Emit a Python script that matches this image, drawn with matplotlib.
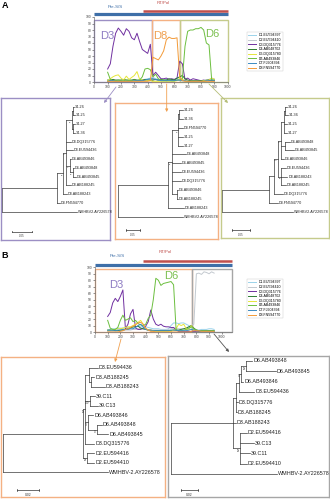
import matplotlib
matplotlib.use('Agg')
import matplotlib.pyplot as plt
from matplotlib.patches import Rectangle

plt.rcParams['font.family'] = ['Liberation Sans', 'DejaVu Sans']

# ------------------------------------------------------------------ data
ref_names = ['D1.EU594397', 'D2.EU594410', 'D3.DQ315776', 'D4.AB048702',
             'D5.DQ315780', 'D6.AB493846', 'D7.FJ904394', 'D8.FN594770']
ref_colors = ['#9BD3EA', '#C3C9CF', '#7030A0', '#2E7D32',
              '#E6E63A', '#6CBF3F', '#3B8BC2', '#F39A38']

# Panel A similarity plot (window position vs % similarity)
A_pos = [100, 120, 140, 160, 180, 200, 220, 240, 260, 280, 300, 320, 340, 360,
         380, 400, 420, 440, 460, 480, 500, 520, 540, 560, 580, 600, 620, 640,
         660, 680, 700, 720, 740, 760, 780, 800, 820, 840, 860, 880, 900]
A_D1 = [2, 2, 2, 1, 1, 1, 1, 1, 1, 1, 1, 2, 2, 3, 4, 5, 6, 7, 5, 4, 3, 3, 4, 3,
        3, 4, 5, 4, 3, 2, 1, 1, 1, 1, 1, 1, 1, 2, 3, 4, 3]
A_D2 = [1, 1, 1, 1, 1, 1, 1, 1, 1, 1, 1, 1, 1, 2, 2, 3, 3, 4, 3, 2, 2, 2, 2, 2,
        2, 2, 3, 3, 2, 2, 1, 1, 1, 1, 1, 1, 1, 2, 4, 6, 5]
A_D3 = [20, 28, 55, 75, 83, 78, 72, 82, 78, 68, 65, 75, 62, 50, 47, 44, 58, 10,
        15, 10, 5, 5, 6, 4, 5, 4, 6, 32, 28, 4, 6, 3, 5, 4, 3, 2, 3, 2, 3, 2, 2]
A_D4 = [3, 3, 4, 3, 3, 3, 4, 3, 3, 3, 4, 3, 3, 3, 4, 3, 3, 3, 4, 3, 4, 3, 3, 5,
        4, 3, 6, 8, 10, 5, 3, 2, 2, 2, 2, 2, 2, 3, 3, 2, 2]
A_D5 = [2, 5, 8, 10, 11, 6, 3, 9, 4, 7, 10, 16, 4, 3, 2, 3, 2, 1, 1, 1, 1, 1, 1,
        1, 1, 1, 2, 6, 4, 2, 1, 1, 1, 1, 1, 1, 2, 2, 3, 6, 4]
A_D6 = [15, 4, 2, 2, 3, 2, 2, 3, 2, 2, 3, 2, 3, 8, 20, 21, 19, 8, 12, 5, 3, 3, 2,
        3, 2, 2, 3, 3, 5, 55, 78, 80, 80, 82, 82, 84, 80, 60, 57, 3, 3]
A_D7 = [1, 2, 2, 1, 1, 1, 1, 1, 1, 1, 2, 2, 2, 2, 3, 4, 5, 5, 4, 3, 2, 2, 2, 2,
        2, 2, 3, 3, 2, 2, 1, 1, 1, 1, 1, 1, 1, 2, 2, 3, 2]
A_D8 = [1, 1, 1, 1, 1, 1, 1, 1, 1, 1, 1, 1, 1, 1, 1, 1, 2, 38, 36, 34, 40, 48,
        65, 69, 67, 67, 68, 8, 2, 1, 1, 1, 1, 1, 1, 1, 1, 1, 1, 1, 1]
A_breaks = [0, 435, 641, 1000]
A_seg_labels = ['D3', 'D8', 'D6']
A_seg_label_pos = [(95, 71), (493, 71), (883, 74)]

# Panel B similarity plot
B_pos = [100, 120, 140, 160, 180, 200, 220, 240, 260, 280, 300, 320, 340, 360,
         380, 400, 420, 440, 460, 480, 500, 520, 540, 560, 580, 600, 620, 640,
         660, 680, 700, 720, 740, 760, 780, 800, 820, 840, 860, 880, 900, 920, 940]
B_D1 = [3, 4, 5, 5, 6, 6, 6, 6, 7, 7, 6, 8, 9, 8, 8, 8, 7, 6, 5, 5, 5, 4, 4, 4,
        5, 10, 14, 14, 13, 14, 14, 12, 10, 6, 4, 3, 3, 4, 4, 4, 5, 5, 4]
B_D2 = [2, 2, 2, 2, 2, 2, 2, 3, 3, 3, 4, 4, 5, 5, 4, 4, 3, 3, 3, 3, 3, 3, 3, 3,
        4, 5, 6, 6, 5, 5, 5, 6, 8, 10, 12, 90, 91, 89, 93, 92, 90, 93, 91]
B_D3 = [24, 30, 45, 52, 47, 55, 65, 5, 12, 28, 35, 6, 4, 4, 6, 9, 16, 34, 20, 12,
        10, 12, 9, 8, 8, 7, 7, 3, 1, 1, 1, 1, 1, 1, 1, 1, 1, 1, 1, 1, 1, 1, 1]
B_D4 = [3, 3, 3, 2, 2, 3, 3, 4, 5, 6, 8, 8, 9, 6, 5, 4, 3, 3, 2, 2, 2, 2, 2, 2,
        2, 2, 3, 3, 3, 4, 5, 6, 8, 10, 6, 3, 2, 2, 2, 2, 2, 2, 2]
B_D5 = [2, 2, 3, 4, 5, 5, 6, 7, 8, 8, 10, 12, 15, 18, 12, 5, 3, 2, 2, 1, 1, 1, 1,
        1, 1, 1, 3, 5, 12, 10, 12, 5, 3, 10, 4, 2, 2, 1, 1, 1, 1, 1, 1]
B_D6 = [18, 6, 4, 4, 7, 18, 26, 18, 20, 22, 16, 18, 13, 11, 10, 12, 21, 26, 50,
        83, 80, 72, 75, 76, 77, 78, 73, 3, 2, 2, 3, 4, 6, 8, 5, 3, 2, 2, 2, 2, 2,
        2, 2]
B_D7 = [2, 2, 2, 2, 3, 3, 4, 4, 4, 5, 5, 7, 10, 12, 8, 4, 3, 2, 2, 2, 2, 2, 2, 2,
        2, 3, 3, 3, 2, 2, 2, 2, 3, 4, 3, 2, 2, 1, 1, 1, 1, 1, 1]
B_D8 = [0, 0, 0, 0, 0, 1, 2, 4, 5, 7, 9, 11, 14, 15, 12, 6, 3, 1, 1, 0, 0, 0, 0,
        0, 0, 0, 0, 0, 0, 0, 0, 0, 0, 1, 2, 2, 2, 1, 1, 1, 1, 1, 1]
B_breaks = [0, 763, 1081]
B_seg_labels = ['D3', 'D6', 'D2']
B_seg_label_pos = [(171, 73), (600, 87), (860, 73)]

# genome regions (start, end) drawn above the plots
region_names = ['Pre-S/S', 'RT/Pol']
A_regions = [(0, 1000), (365, 1000)]
B_regions = [(0, 1081), (379, 1081)]

# Phylogenetic trees (newick, substitutions/site)
tree_A1 = ("((((((34-26:0.0033,34-25:0.005):0.0025,(34-27:0.005,34-36:0.005):0.004)98:0.0143,"
           "D3.DQ315776:0.0125,D3.EU594436:0.0168,(D6.AB493846:0.0025,(D6.AB493848:0.0033,"
           "D6.AB493845:0.0083)99:0.0068)72:0.01,D3.AB188245:0.0125)70:0.0068,D3.AB188243:0.0085)98:0.015,"
           "D8.FN594770:0.0068):0.139,WMHBV2.AY226578:0.189);")
tree_A2 = ("(((((34-26:0.0137,34-36:0.0137):0.002,D8.FN594770:0.0157,34-25:0.0157,34-27:0.0157)90:0.0236,"
           "D6.AB493848:0.051,D6.AB493845:0.0332,D3.EU594436:0.0332,D3.DQ315776:0.0332,"
           "(D6.AB493846:0.0057,D3.AB188245:0.0057):0.0179)97:0.012,D3.AB188243:0.056):0.1785,"
           "WMHBV2.AY226578:0.23);")
tree_A3 = ("(((((((34-26:0.0046,34-36:0.009):0.0027,34-25:0.0074,34-27:0.0074):0.0082,"
           "(D6.AB493848:0.0137,D6.AB493845:0.0246):0.0109,D6.AB493846:0.0082)78:0.0082,"
           "(D3.EU594436:0.0128,D3.AB188243:0.0164,D3.AB188245:0.0128)99:0.009)100:0.0109,"
           "D3.DQ315776:0.0238):0.0137,D8.FN594770:0.0238):0.1275,WMHBV2.AY226578:0.194);")
tree_B1 = ("((((D3.EU594436:0.0077,(D3.AB188245:0.0029,D3.AB188243:0.0123):0.0018):0.0035,"
           "(39.C11:0.0048,39.C13:0.0077)100:0.004,(D6.AB493846:0.0047,(D6.AB493848:0.0045,"
           "D6.AB493845:0.0102)97:0.0077)79:0.0026,D3.DQ315776:0.0082)98:0.002,"
           "(D2.EU594416:0.0062,D2.EU594410:0.0062)98:0.004):0.070,WMHBV-2.AY226578:0.0925);")
tree_B2 = ("((((((D6.AB493848:0.0073,D6.AB493845:0.0343)99:0.0058,D6.AB493846:0.0027)75:0.0023,"
           "D3.EU594436:0.0177):0.0035,D3.DQ315776:0.002,D3.AB188245:0.0008):0.0031,"
           "D3.AB188243:0.0031,(D2.EU594416:0.0077,39.C13:0.0165,39.C11:0.0116,"
           "D2.EU594410:0.0077)98:0.0077):0.072,WMHBV-2.AY226578:0.1222);")
scale_A = 0.05
scale_B = 0.02

# ------------------------------------------------------------------ layout
W, H = 330, 500
fig = plt.figure(figsize=(W / 100, H / 100), dpi=100)
fig.patch.set_facecolor('white')


def px_axes(l, t, r, b, z=1):
    return fig.add_axes([l / W, 1 - b / H, (r - l) / W, (b - t) / H], zorder=z)


def recomb_panel(box, xmax, pos, series, breaks, seg_cols, seg_labels, seg_pos,
                 seg_lcols, regions, legend_xy, box_top):
    l, t, r, b = box
    ax = px_axes(l, t, r, b, z=2)
    ax.set_xlim(0, xmax)
    ax.set_ylim(0, 100)
    ax.patch.set_alpha(0)
    for vals, name, col in zip(series, ref_names, ref_colors):
        ax.plot(pos, vals, color=col, lw=0.7, label=name)
    for i in range(len(breaks) - 1):
        ax.add_patch(Rectangle((breaks[i], 0), breaks[i + 1] - breaks[i], box_top,
                               fill=False, ec=seg_cols[i], lw=1.0, clip_on=False))
        ax.text(seg_pos[i][0], seg_pos[i][1], seg_labels[i], color=seg_lcols[i],
                fontsize=8, ha='center', va='center')
    ax.set_xticks(list(range(0, 1001, 100)))
    ax.set_yticks(list(range(0, 101, 10)))
    ax.tick_params(labelsize=2.4, length=1.2, width=0.4, pad=1, colors='#444444')
    for s in ['top', 'right']:
        ax.spines[s].set_visible(False)
    for s in ['left', 'bottom']:
        ax.spines[s].set_linewidth(0.5)
        ax.spines[s].set_color('#777777')
    # region bars
    ycol = [('#3E6FA8', 2.3, 104), ('#C0504D', 1.8, 110)]
    for (x0, x1), name, (c, lw, yy) in zip(regions, region_names, ycol):
        ax.plot([x0, x1], [yy, yy], color=c, lw=lw, clip_on=False, solid_capstyle='butt')
    leg = ax.legend(loc='upper left', bbox_to_anchor=(legend_xy[0] / W, 1 - legend_xy[1] / H),
                    bbox_transform=fig.transFigure, fontsize=2.6, frameon=True,
                    labelspacing=0.18, borderpad=0.4, handlelength=2.2, handletextpad=0.6,
                    fancybox=False)
    leg.get_frame().set_linewidth(0.3)
    leg.get_frame().set_edgecolor('#bbbbbb')
    return ax


def parse_newick(s):
    s = s.strip().rstrip(';')
    p = [0]

    def node():
        ch = []
        if s[p[0]] == '(':
            p[0] += 1
            while True:
                ch.append(node())
                if s[p[0]] == ',':
                    p[0] += 1
                    continue
                p[0] += 1
                break
        st = p[0]
        while p[0] < len(s) and s[p[0]] not in ':,)':
            p[0] += 1
        name = s[st:p[0]]
        ln = 0.0
        if p[0] < len(s) and s[p[0]] == ':':
            p[0] += 1
            st = p[0]
            while p[0] < len(s) and s[p[0]] not in ',)':
                p[0] += 1
            ln = float(s[st:p[0]])
        return {'name': name, 'len': ln, 'ch': ch}
    return node()


def layout(nd, x0, cnt):
    nd['x'] = x0 + nd['len']
    if not nd['ch']:
        nd['y'] = cnt[0]
        cnt[0] += 1
    else:
        for c in nd['ch']:
            layout(c, nd['x'], cnt)
        nd['y'] = (nd['ch'][0]['y'] + nd['ch'][-1]['y']) / 2


def draw_tree(ax, nd, fs, ppu, dy, boot_fs):
    lc = '#3a3a3a'
    if nd['ch']:
        ax.plot([nd['x'], nd['x']], [nd['ch'][0]['y'], nd['ch'][-1]['y']], color=lc, lw=0.5)
        for c in nd['ch']:
            ax.plot([nd['x'], c['x']], [c['y'], c['y']], color=lc, lw=0.5)
            draw_tree(ax, c, fs, ppu, dy, boot_fs)
        if nd['name']:
            ax.text(nd['x'] - 0.4 / ppu, nd['y'] + 0.25, nd['name'], fontsize=boot_fs,
                    ha='right', va='center', color='#333333')
    else:
        ax.text(nd['x'] + 1.0 / ppu, nd['y'], nd['name'], fontsize=fs, ha='left',
                va='center', color='#222222')


def tree_panel(box, ecol, newick, root_px, ppu, y0, dy, fs, scale, sb_px, sb_fs, boot_fs):
    l, t, r, b = box
    ax = px_axes(l, t, r, b, z=1)
    tr = parse_newick(newick)
    layout(tr, 0.0, [0])
    ax.set_xlim((l - root_px) / ppu, (r - root_px) / ppu)
    ax.set_ylim((b - y0) / dy, (t - y0) / dy)
    ax.set_xticks([])
    ax.set_yticks([])
    for s in ax.spines.values():
        s.set_color(ecol)
        s.set_linewidth(1.0)
    draw_tree(ax, tr, fs, ppu, dy, boot_fs)
    sx = (sb_px[0] - root_px) / ppu
    sy = (sb_px[1] - y0) / dy
    ax.plot([sx, sx + scale], [sy, sy], color='#333333', lw=0.5)
    tk = 0.8 / dy
    ax.plot([sx, sx], [sy - tk, sy + tk], color='#333333', lw=0.5)
    ax.plot([sx + scale, sx + scale], [sy - tk, sy + tk], color='#333333', lw=0.5)
    ax.text(sx + scale / 2, sy + 4.5 / dy, str(scale), fontsize=sb_fs, ha='center',
            va='center', color='#333333')
    return ax


# ---- Panel A
A_series = [A_D1, A_D2, A_D3, A_D4, A_D5, A_D6, A_D7, A_D8]
recomb_panel((94.3, 17, 227.7, 82), 1000, A_pos, A_series, A_breaks,
             ['#9C8FC4', '#F4B183', '#C5CB8C'], A_seg_labels, A_seg_label_pos,
             ['#8E7CC3', '#F0A050', '#7CC050'], A_regions, (245, 30), 96)

tree_panel((1, 98, 110, 240), '#9C8FC4', tree_A1, 1.7, 400, 106.7, 8.75, 2.7,
           scale_A, (11.7, 231.7), 2.0, 1.5)
tree_panel((115, 103, 218, 239), '#F4B183', tree_A2, 118.3, 280, 110, 8.89, 2.7,
           scale_A, (126, 230), 2.0, 1.5)
tree_panel((221, 98, 329, 238), '#C5CB8C', tree_A3, 222.3, 366, 106.7, 8.75, 2.7,
           scale_A, (231.7, 230), 2.0, 1.5)

# ---- Panel B
B_series = [B_D1, B_D2, B_D3, B_D4, B_D5, B_D6, B_D7, B_D8]
recomb_panel((95, 267.3, 232, 332), 1081, B_pos, B_series, B_breaks,
             ['#F4B183', '#A6A6A6'], B_seg_labels, B_seg_label_pos,
             ['#8E7CC3', '#7CC050', '#A6A6A6'], B_regions, (245, 277), 98)

tree_panel((1, 357, 165, 497), '#F4B183', tree_B1, 3.3, 1135, 367.7, 9.51, 3.9,
           scale_B, (16.7, 490), 2.4, 1.8)
tree_panel((168, 356, 329, 497), '#A6A6A6', tree_B2, 171, 865, 361, 10.27, 3.9,
           scale_B, (181, 490), 2.4, 1.8)

# ---- overlay: panel letters, region names, arrows
ov = fig.add_axes([0, 0, 1, 1], zorder=5)
ov.set_xlim(0, W)
ov.set_ylim(H, 0)
ov.axis('off')
ov.patch.set_alpha(0)
ov.text(1.5, 1, 'A', fontsize=6.5, fontweight='bold', va='top', ha='left')
ov.text(1.5, 251, 'B', fontsize=6.5, fontweight='bold', va='top', ha='left')
ov.text(115, 7, region_names[0], fontsize=3.2, color='#3E6FA8', ha='center', va='center')
ov.text(163, 2.5, region_names[1], fontsize=3.2, color='#C0504D', ha='center', va='center')
ov.text(117, 256, region_names[0], fontsize=3.2, color='#3E6FA8', ha='center', va='center')
ov.text(165, 252, region_names[1], fontsize=3.2, color='#C0504D', ha='center', va='center')

arrows = [((116, 87), (104, 103), '#9C8FC4'),
          ((166.7, 84), (166.7, 112), '#F0A050'),
          ((209, 84), (228, 103), '#B5BE78'),
          ((121, 339), (115, 362), '#F0A050'),
          ((214, 334), (229, 352), '#555555')]
for st, en, c in arrows:
    ov.annotate('', xy=en, xytext=st,
                arrowprops=dict(arrowstyle='-|>', color=c, lw=0.6, mutation_scale=4,
                                shrinkA=0, shrinkB=0))

fig.savefig('out.png', dpi=100, facecolor='white')
